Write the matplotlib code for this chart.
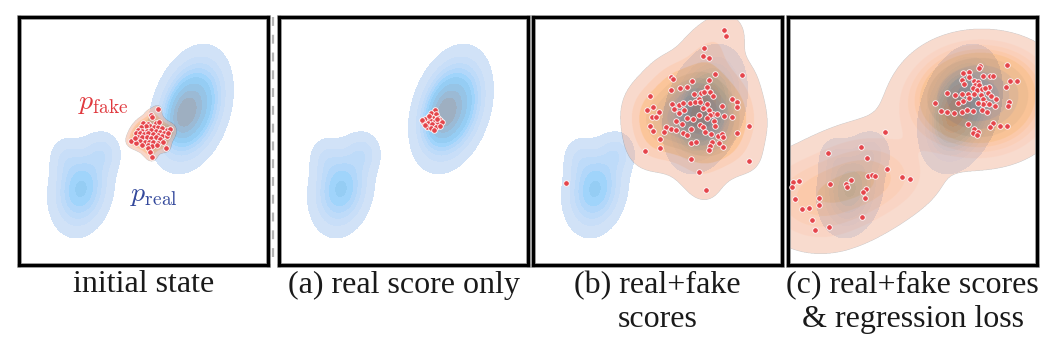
import numpy as np
import matplotlib
matplotlib.use("Agg")
import matplotlib.pyplot as plt
from matplotlib.colors import ListedColormap, to_rgba
from matplotlib.lines import Line2D
from matplotlib.patches import Rectangle
from seaborn.external import husl

# every panel shares one score space: 249 x 248 units, y grows downwards
W, H = 249, 248

# real distribution, two modes made of a few gaussian bumps
# (weight, mean x, mean y, sd x, sd y, correlation)
REAL_WEIGHT = [0.75, 0.35, 0.40, 0.12, 0.08]
REAL_MX = [172, 164, 62, 84, 46]
REAL_MY = [92, 98, 172, 136, 141]
REAL_SX = [17, 9, 15, 10, 9]
REAL_SY = [26, 15, 22, 12, 12]
REAL_RHO = [-0.3, -0.3, -0.15, 0.0, 0.0]

# fake samples
FAKE_INIT_X = [139, 132, 133, 137, 124, 129, 131, 127, 122, 135, 139, 143, 148, 151, 119, 123, 128, 132,
               137, 141, 145, 117, 121, 125, 129, 134, 139, 143, 148, 119, 123, 128, 132, 137, 141, 112,
               121, 126, 130, 134, 139, 144, 117, 123, 129, 133, 138, 129, 131, 147, 133, 116, 140, 149]
FAKE_INIT_Y = [92, 98, 100, 106, 106, 107, 109, 109, 110, 110, 110, 111, 113, 112, 113, 114, 114, 113,
               114, 115, 116, 116, 116, 117, 116, 117, 118, 119, 119, 120, 120, 120, 121, 120, 122, 124,
               124, 125, 125, 125, 126, 125, 126, 128, 128, 129, 128, 131, 135, 131, 140, 121, 105, 116]

FAKE_A_X = [156, 152, 157, 149, 154, 159, 146, 151, 156, 161, 144, 149, 153, 159, 163, 148, 152, 157,
            161, 155, 143, 150, 146, 158]
FAKE_A_Y = [93, 96, 97, 100, 101, 101, 102, 103, 104, 103, 105, 106, 107, 106, 105, 110, 111, 110,
            109, 113, 103, 99, 108, 102]

FAKE_B_X = [191, 193, 171, 170, 176, 209, 182, 138, 140, 159, 176, 174, 147, 154, 138, 168, 171, 177,
            161, 180, 117, 166, 199, 204, 120, 139, 146, 150, 157, 162, 167, 174, 189, 204, 114, 126,
            141, 146, 151, 170, 176, 180, 184, 177, 166, 160, 154, 191, 199, 119, 123, 143, 149, 174,
            181, 182, 117, 133, 120, 131, 138, 143, 158, 167, 170, 172, 178, 185, 189, 190, 204, 216,
            150, 154, 127, 179, 186, 158, 163, 177, 190, 127, 176, 112, 158, 216, 166, 173, 33]
FAKE_B_Y = [13, 19, 31, 39, 41, 58, 57, 60, 62, 64, 63, 70, 71, 70, 73, 76, 75, 75,
            77, 79, 79, 82, 82, 85, 90, 87, 88, 86, 86, 85, 85, 87, 89, 90, 93, 95,
            92, 96, 93, 91, 93, 97, 97, 98, 98, 102, 101, 99, 100, 100, 100, 104, 107, 101,
            104, 109, 109, 110, 114, 115, 112, 113, 112, 108, 110, 115, 117, 119, 117, 120, 116, 109,
            116, 118, 122, 125, 126, 126, 125, 129, 130, 131, 133, 134, 142, 144, 155, 173, 166]

FAKE_C_X = [192, 191, 219, 175, 181, 181, 202, 205, 195, 174, 186, 190, 187, 191, 176, 222, 229, 201,
            185, 189, 194, 197, 218, 159, 167, 174, 180, 186, 193, 200, 203, 181, 195, 208, 221, 220,
            147, 170, 175, 198, 201, 195, 190, 153, 159, 166, 174, 179, 185, 194, 199, 207, 180, 205,
            212, 219, 202, 186, 190, 185, 189,
            97, 73, 40, 79, 99, 5, 11, 4, 42, 63, 58, 59, 80, 84, 87, 114, 122, 7,
            31, 31, 14, 21, 78, 75, 77, 24, 27, 41, 74]
FAKE_C_Y = [49, 51, 48, 56, 55, 60, 59, 59, 59, 63, 64, 65, 68, 68, 67, 64, 64, 70,
            71, 73, 72, 71, 70, 76, 78, 77, 77, 77, 78, 76, 79, 81, 82, 82, 85, 89,
            86, 86, 84, 86, 87, 87, 86, 94, 95, 96, 95, 93, 94, 93, 95, 89, 107, 106,
            109, 109, 110, 112, 115, 116, 118,
            115, 130, 136, 141, 152, 165, 164, 170, 167, 163, 167, 170, 159, 158, 159, 160, 162, 182,
            181, 188, 192, 191, 172, 175, 181, 203, 213, 210, 200]

CAPTIONS = ["initial state", "(a) real score only", "(b) real+fake\nscores",
            "(c) real+fake scores\n& regression loss"]
FAKE_X = [FAKE_INIT_X, FAKE_A_X, FAKE_B_X, FAKE_C_X]
FAKE_Y = [FAKE_INIT_Y, FAKE_A_Y, FAKE_B_Y, FAKE_C_Y]
FAKE_BW = [1.0, None, 1.2, 1.0]   # None: no density drawn for that panel

REAL_COLOR = "#1f77b4"
FAKE_COLOR = "#f5821f"
DOT_COLOR = "#e5454b"

# panel boxes in pixels (left, top) of the 1064 x 346 figure
PANEL_LEFT = [19, 279, 533, 788]
PANEL_TOP = 17
FIG_W, FIG_H = 1064, 346


def ramp_colors(color):
    # light-to-dark ramp, same recipe seaborn uses for a single-colour filled kde
    r, g, b, _ = to_rgba(color)
    h, s, _ = husl.rgb_to_husl(r, g, b)
    xx = np.linspace(-1, 1, int(1.15 * 256))[:256]
    ramp = np.zeros((256, 3))
    ramp[:, 0] = h
    ramp[:, 1] = s * np.cos(xx)
    ramp[:, 2] = np.linspace(35, 80, 256)
    return np.clip([husl.husl_to_rgb(*hsl) for hsl in ramp], 0, 1)[::-1]


def iso_levels(dens, props):
    vals = np.sort(dens.ravel())[::-1]
    cum = np.cumsum(vals) / vals.sum()
    idx = np.searchsorted(cum, 1 - np.asarray(props))
    return np.take(vals, idx, mode="clip")


def kde(xs, ys, bw_adjust, gridx, gridy):
    # gaussian kde, scott bandwidth per axis
    xs = np.asarray(xs, float)
    ys = np.asarray(ys, float)
    factor = len(xs) ** (-1 / 6) * bw_adjust
    bx, by = xs.std(ddof=1) * factor, ys.std(ddof=1) * factor
    dens = np.zeros_like(gridx)
    for px, py in zip(xs, ys):
        dens += np.exp(-0.5 * (((gridx - px) / bx) ** 2 + ((gridy - py) / by) ** 2))
    return dens


# wide grid (for level finding) and a fine grid over the panel (for drawing the fake density)
gx, gy = np.meshgrid(np.linspace(-90, 340, 330), np.linspace(-90, 340, 330))
fx, fy = np.meshgrid(np.linspace(0, W, 3 * W), np.linspace(0, H, 3 * H))

real_dens = np.zeros_like(gx)
for w, mx, my, sx, sy, rho in zip(REAL_WEIGHT, REAL_MX, REAL_MY, REAL_SX, REAL_SY, REAL_RHO):
    dx = (gx - mx) / sx
    dy = (gy - my) / sy
    real_dens += w * np.exp(-(dx**2 - 2 * rho * dx * dy + dy**2) / (2 * (1 - rho**2)))
real_levels = iso_levels(real_dens, np.linspace(0.05, 1, 10))

# real kde sits on white, so blend alpha 0.5 into the colours and draw it opaque
real_cmap = ListedColormap(ramp_colors(REAL_COLOR) * 0.5 + 0.5)
fake_ramp = ramp_colors(FAKE_COLOR)

plt.rcParams["mathtext.fontset"] = "cm"
fig = plt.figure(figsize=(FIG_W / 100, FIG_H / 100), dpi=100)

for i in range(4):
    ax = fig.add_axes([PANEL_LEFT[i] / FIG_W, 1 - (PANEL_TOP + H) / FIG_H, W / FIG_W, H / FIG_H])
    cs = ax.contourf(gx, gy, real_dens, levels=real_levels, cmap=real_cmap)
    cs.set_edgecolor("face")
    cs.set_linewidth(0.4)

    if FAKE_BW[i] is not None:
        lv = iso_levels(kde(FAKE_X[i], FAKE_Y[i], FAKE_BW[i], gx, gy), np.linspace(0.05, 1, 10))
        fine = kde(FAKE_X[i], FAKE_Y[i], FAKE_BW[i], fx, fy)
        band = np.clip(np.digitize(fine, lv), 0, len(lv) - 1)
        mids = (lv[:-1] + lv[1:]) / 2
        pos = ((mids - lv[0]) / (lv[-1] - lv[0]) * 255).astype(int)
        band_rgba = np.zeros((len(lv), 4))
        band_rgba[1:, :3] = fake_ramp[pos]
        band_rgba[1:, 3] = 0.48
        ax.imshow(band_rgba[band], extent=(0, W, H, 0), origin="upper", aspect="auto",
                  interpolation="antialiased", zorder=1.5)

    ax.scatter(FAKE_X[i], FAKE_Y[i], s=16, color=DOT_COLOR, edgecolors="white", linewidths=0.6, zorder=5)

    ax.set_xlim(0, W)
    ax.set_ylim(H, 0)
    ax.set_xticks([])
    ax.set_yticks([])
    for sp in ax.spines.values():
        sp.set_linewidth(2.3)
        sp.set_color("black")
    ax.add_patch(Rectangle((0, 0), 1, 1, transform=ax.transAxes, fill=False, ec="#a0a0a0",
                           lw=3.4, clip_on=False, zorder=2.4))
    ax.text(0.5, -0.022, CAPTIONS[i], transform=ax.transAxes, ha="center", va="top",
            family="Liberation Serif", fontsize=23, linespacing=1.25, color="#1a1a1a")

    if i == 0:
        ax.text(84, 85, r"$p_{\mathrm{fake}}$", color="#e0393e", fontsize=20, ha="center", va="center")
        ax.text(135, 177, r"$p_{\mathrm{real}}$", color="#34499c", fontsize=20, ha="center", va="center")

xd = 273 / FIG_W
fig.add_artist(Line2D([xd, xd], [1 - PANEL_TOP / FIG_H, 1 - (PANEL_TOP + H) / FIG_H],
                      transform=fig.transFigure, color="#b4b4b4", lw=1.6, dashes=(4, 4)))

fig.savefig("out.png", dpi=100)
